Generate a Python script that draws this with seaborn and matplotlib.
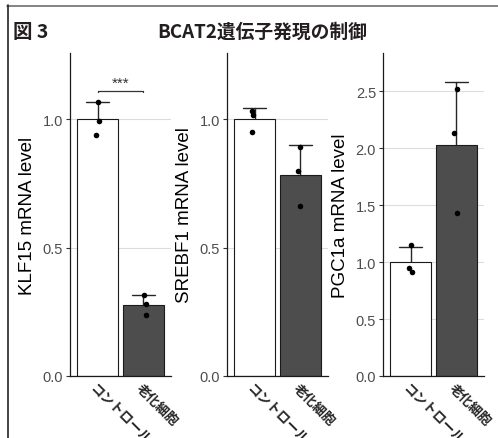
import numpy as np
import pandas as pd
import matplotlib
matplotlib.use("Agg")
import matplotlib.pyplot as plt
from matplotlib.lines import Line2D
import seaborn as sns

# values (3 replicates per group)
groups = ["コントロール", "老化細胞"]
genes = ["KLF15", "SREBF1", "PGC1a"]
klf15_ctrl = [1.069, 0.995, 0.939]
klf15_sen = [0.316, 0.280, 0.239]
srebf1_ctrl = [1.034, 1.016, 0.952]
srebf1_sen = [0.893, 0.800, 0.661]
pgc1a_ctrl = [1.147, 0.948, 0.910]
pgc1a_sen = [2.517, 2.136, 1.428]
ylims = [1.258, 1.258, 2.836]
yticks = [[0.0, 0.5, 1.0], [0.0, 0.5, 1.0], [0.0, 0.5, 1.0, 1.5, 2.0, 2.5]]

values = {
    "KLF15": (klf15_ctrl, klf15_sen),
    "SREBF1": (srebf1_ctrl, srebf1_sen),
    "PGC1a": (pgc1a_ctrl, pgc1a_sen),
}

rows = []
for gene in genes:
    for grp, vals in zip(groups, values[gene]):
        for v in vals:
            rows.append({"gene": gene, "group": grp, "value": v})
df = pd.DataFrame(rows)

sns.set_theme(style="white")
plt.rcParams["font.family"] = ["Liberation Sans", "Noto Sans CJK JP"]
np.random.seed(3)

W, H = 498, 439
fig = plt.figure(figsize=(W / 100, H / 100), dpi=100)

palette = {"コントロール": "white", "老化細胞": "#4D4D4D"}
lefts = [70, 227, 383]
ax_w = 101
top, bottom = 54, 377

for i, gene in enumerate(genes):
    ax = fig.add_axes([lefts[i] / W, (H - bottom) / H, ax_w / W, (bottom - top) / H])
    sub = df[df["gene"] == gene]
    sns.barplot(data=sub, x="group", y="value", hue="group", order=groups,
                palette=palette, edgecolor="#1a1a1a", linewidth=0.8, width=0.89,
                errorbar="sd", capsize=0.5,
                err_kws={"color": "#262626", "linewidth": 1.0, "zorder": 0.8},
                legend=False, ax=ax)
    sns.stripplot(data=sub, x="group", y="value", order=groups, color="black",
                  size=4, jitter=0.06, zorder=3, ax=ax)
    ax.set_xlim(-0.6, 1.6)
    ax.set_ylim(0, ylims[i])
    ax.set_yticks(yticks[i])
    ax.set_yticklabels([f"{t:.1f}" for t in yticks[i]])
    ax.grid(axis="y", color="#dcdcdc", linewidth=0.8)
    ax.set_axisbelow(True)
    for s in ["top", "right"]:
        ax.spines[s].set_visible(False)
    for s in ["left", "bottom"]:
        ax.spines[s].set_color("#1a1a1a")
        ax.spines[s].set_linewidth(0.9)
    ax.tick_params(axis="y", left=True, length=3, width=0.8, color="#333333",
                   labelsize=10.5, labelcolor="#4D4D4D", pad=2)
    ax.tick_params(axis="x", bottom=False, length=0, pad=3)
    ax.set_xlabel("")
    ax.set_ylabel(f"{gene} mRNA level", fontsize=13.5, color="black", labelpad=5)
    for lab in ax.get_xticklabels():
        lab.set_family(["Noto Sans CJK JP"])
        lab.set_fontweight("bold")
        lab.set_fontsize(9.5)
        lab.set_rotation(-45)
        lab.set_ha("left")
        lab.set_va("top")
        lab.set_rotation_mode("anchor")

    if gene == "KLF15":
        yb = 1.111
        ax.plot([0, 0, 1, 1], [yb - 0.006, yb, yb, yb - 0.006], color="#333333",
                linewidth=0.9)
        ax.text(0.5, yb + 0.004, "***", ha="center", va="bottom", fontsize=11,
                color="#333333")

fig.text(13 / W, 1 - 32 / H, "図 3", family=["Noto Sans CJK JP"], fontweight="bold",
         fontsize=14, ha="left", va="center", color="#231f20")
fig.text(262 / W, 1 - 32 / H, "BCAT2遺伝子発現の制御", family=["Noto Sans CJK JP"],
         fontweight="bold", fontsize=13.5, ha="center", va="center", color="#231f20")

# outer frame: top and left edges only
fig.add_artist(Line2D([7 / W, 1], [1 - 6.5 / H, 1 - 6.5 / H], color="#6e6e6e",
                      linewidth=1.2, transform=fig.transFigure))
fig.add_artist(Line2D([7.5 / W, 7.5 / W], [0, 1 - 6 / H], color="#222222",
                      linewidth=1.2, transform=fig.transFigure))

fig.savefig("out.png", dpi=100)
